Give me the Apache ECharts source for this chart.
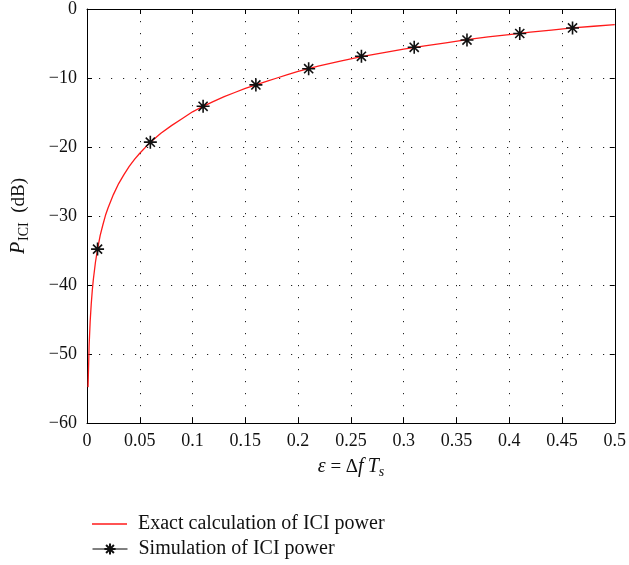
<!DOCTYPE html>
<html><head><meta charset="utf-8">
<script src="https://cdn.jsdelivr.net/npm/echarts@6/dist/echarts.min.js"></script>
<style>html,body{margin:0;padding:0;background:#fff}#c{width:629px;height:565px}</style>
</head><body><div id="c"></div>
<script>
// Exact calculation curve
const curveX = [0.001,0.002,0.003,0.004,0.005,0.006,0.008,0.01,0.0125,0.015,0.0175,0.02,0.025,0.03,0.035,0.04,0.045,0.05,0.06,0.07,0.08,0.09,0.10,0.11,0.12,0.13,0.14,0.15,0.16,0.17,0.18,0.19,0.20,0.22,0.24,0.26,0.28,0.30,0.32,0.34,0.36,0.38,0.40,0.42,0.44,0.46,0.48,0.50];
const curveY = [-54.8,-48.8,-45.3,-42.8,-40.8,-39.2,-36.7,-34.8,-32.8,-31.3,-29.9,-28.8,-26.9,-25.3,-24.0,-22.8,-21.8,-20.9,-19.3,-18.0,-16.9,-15.9,-14.9,-14.1,-13.4,-12.7,-12.1,-11.5,-11.0,-10.5,-10.0,-9.5,-9.05,-8.25,-7.55,-6.9,-6.35,-5.8,-5.35,-4.9,-4.45,-4.05,-3.7,-3.35,-3.05,-2.75,-2.5,-2.25];
// Simulation points
const simX = [0.01,0.06,0.11,0.16,0.21,0.26,0.31,0.36,0.41,0.46];
const simY = [-34.8,-19.3,-14.1,-11.0,-8.65,-6.85,-5.55,-4.5,-3.55,-2.75];
const seriesNames = ['Exact calculation of ICI power','Simulation of ICI power'];
const xMin = 0, xMax = 0.5, xStep = 0.05;
const yMin = -60, yMax = 0, yStep = 10;

const FONT = '"Liberation Serif", "Times New Roman", serif';
const chart = echarts.init(document.getElementById('c'), null, {renderer:'canvas'});
const star = 'path://M0,10L20,10M10,0L10,20M3,3L17,17M17,3L3,17';
const axisBase = {
  type:'value', axisLine:{show:true, onZero:false, lineStyle:{color:'#000', width:1}},
  axisTick:{show:true, inside:true, length:5, lineStyle:{color:'#000'}},
};
const legendText = {fontFamily:FONT, fontSize:20, color:'#111', padding:[0,0,0,6]};
chart.setOption({
  animation:false,
  backgroundColor:'#fff',
  grid:{left:87, right:13, top:6, bottom:142, containLabel:false},
  xAxis:[
    Object.assign({}, axisBase, {min:xMin, max:xMax, interval:xStep, position:'bottom',
      axisLabel:{margin:9, color:'#111', fontFamily:FONT, fontSize:18,
        formatter:v => String(+v.toFixed(2))},
      splitLine:{show:true, lineStyle:{color:'#222', width:1, type:[1.2,10.8]}}}),
    Object.assign({}, axisBase, {min:xMin, max:xMax, interval:xStep, position:'top',
      axisLabel:{show:false}, splitLine:{show:false}})
  ],
  yAxis:[
    Object.assign({}, axisBase, {min:yMin, max:yMax, interval:yStep, position:'left',
      axisLabel:{margin:10, color:'#111', fontFamily:FONT, fontSize:18,
        formatter:v => String(v).replace('-', '\u2212')},
      splitLine:{show:true, lineStyle:{color:'#222', width:1, type:[1.2,10.8]}}}),
    Object.assign({}, axisBase, {min:yMin, max:yMax, interval:yStep, position:'right',
      axisLabel:{show:false}, splitLine:{show:false}})
  ],
  legend:[
    {left:87, top:509, itemWidth:35, itemHeight:1.4, icon:'rect', textStyle:legendText,
      data:[{name:seriesNames[0], itemStyle:{color:'#ff1a1a'}}]},
    {left:87, top:534, itemWidth:35, itemHeight:14, textStyle:legendText,
      data:[{name:seriesNames[1], lineStyle:{opacity:1, color:'#000', width:1}}]}
  ],
  graphic:[
    {type:'text', x:19, y:216, rotation:Math.PI/2, style:{
      text:'{i|P}{s|ICI}{n|  (dB)}', align:'center', verticalAlign:'middle',
      rich:{
        i:{fontFamily:FONT, fontStyle:'italic', fontSize:20, fill:'#111', lineHeight:24},
        s:{fontFamily:FONT, fontSize:14, fill:'#111', lineHeight:24, verticalAlign:'bottom', padding:[6,0,0,1]},
        n:{fontFamily:FONT, fontSize:19, fill:'#111', lineHeight:24}
      }}},
    {type:'text', x:351, y:467, style:{
      text:'{i|\u03b5} = \u0394{i|f\u2009T}{s|s}', align:'center', verticalAlign:'middle',
      fontFamily:FONT, fontSize:19, fill:'#111',
      rich:{
        i:{fontFamily:FONT, fontStyle:'italic', fontSize:20, fill:'#111', lineHeight:24},
        s:{fontFamily:FONT, fontStyle:'italic', fontSize:14, fill:'#111', lineHeight:24, verticalAlign:'bottom', padding:[5,0,0,0]}
      }}}
  ],
  series:[
    {name:seriesNames[0], type:'line', xAxisIndex:0, yAxisIndex:0, symbol:'none', smooth:false,
      lineStyle:{color:'#ff1a1a', width:1.3}, itemStyle:{color:'#ff1a1a'},
      data:curveX.map((x,i)=>[x, curveY[i]]), z:2},
    {name:seriesNames[1], type:'line', xAxisIndex:0, yAxisIndex:0, symbol:star, symbolSize:13,
      lineStyle:{color:'#000', width:1, opacity:0},
      itemStyle:{color:'none', borderColor:'#111', borderWidth:1.6},
      data:simX.map((x,i)=>[x, simY[i]]), z:3}
  ]
});
</script></body></html>
